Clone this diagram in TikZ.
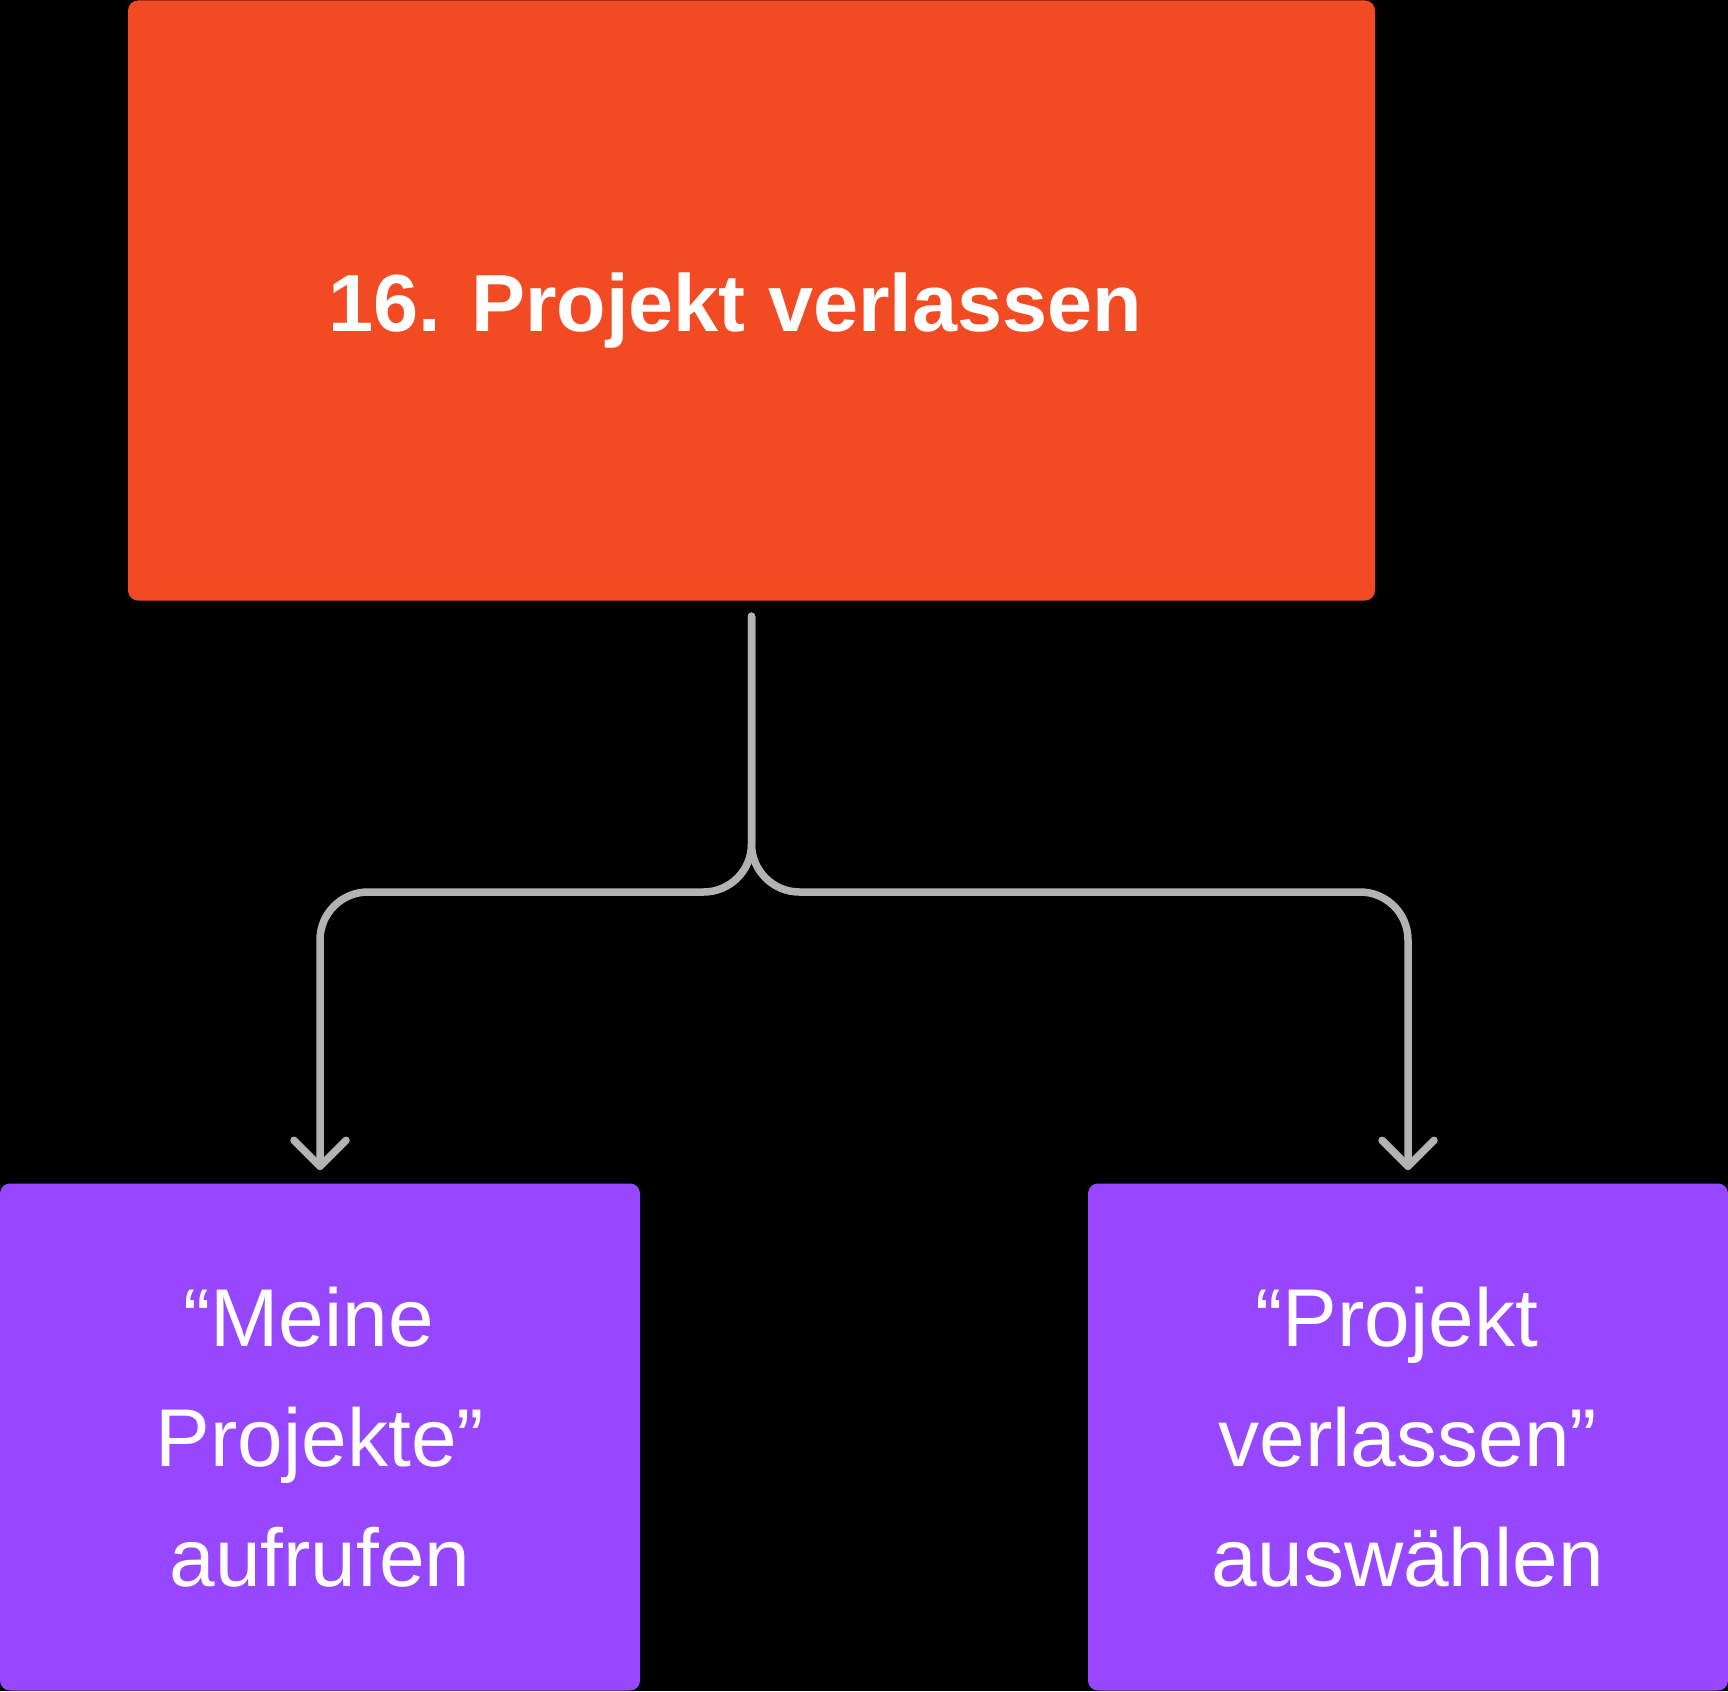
\documentclass[tikz,border=0pt]{standalone}
\usepackage{fontspec}
\setmainfont{Liberation Sans}
\usetikzlibrary{calc}
\definecolor{topc}{HTML}{F24B23}
\definecolor{subc}{HTML}{9747FF}
\definecolor{linec}{HTML}{B3B3B3}
\tikzset{
  topbox/.style={fill=topc, rounded corners=10pt, minimum width=1247pt, minimum height=600pt, inner sep=0pt,
    text=white, text height=61pt, text depth=0pt, font=\fontsize{81}{100}\selectfont\bfseries},
  subbox/.style={fill=subc, rounded corners=10pt, minimum width=640pt, minimum height=507pt, inner sep=0pt,
    text=white, align=center, font=\fontsize{82}{120}\selectfont},
  conn/.style={draw=linec, line width=7.5pt, line cap=round, line join=round, rounded corners=48pt},
  chev/.style={draw=linec, line width=7.5pt, line cap=round, line join=round}
}
\begin{document}
\begin{tikzpicture}[x=1pt,y=-1pt]
\fill[black] (0,0) rectangle (1728,1691);
\useasboundingbox (0,0) rectangle (1728,1691);
\node[topbox] (top) at (751.5,300.5) {16. Projekt verlassen\hspace*{0.4em}};
\node[subbox] (L) at (320,1437) {“Meine\hspace*{0.278em}\\Projekte”\hspace*{0.278em}\\aufrufen};
\node[subbox] (R) at (1408,1437) {“Projekt\hspace*{0.278em}\\verlassen”\hspace*{0.278em}\\auswählen};
\coordinate (start) at ([yshift=-15.5pt]top.south);
\coordinate (hy) at (0,892);
\coordinate (tipL) at ([yshift=17pt]L.north);
\coordinate (tipR) at ([yshift=17pt]R.north);
\draw[conn] (start) -- (start |- hy) -- (tipL |- hy) -- (tipL);
\draw[conn] (start) -- (start |- hy) -- (tipR |- hy) -- (tipR);
\draw[chev] ([shift={(-26,-26)}]tipL) -- (tipL) -- ([shift={(26,-26)}]tipL);
\draw[chev] ([shift={(-26,-26)}]tipR) -- (tipR) -- ([shift={(26,-26)}]tipR);
\end{tikzpicture}
\end{document}
